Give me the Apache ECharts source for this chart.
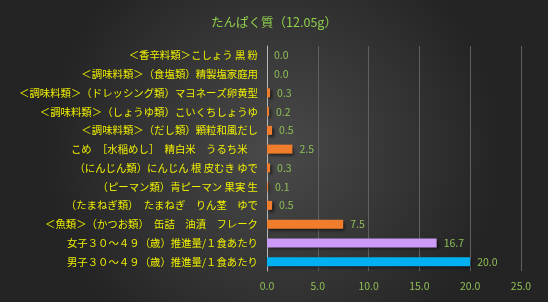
<!DOCTYPE html>
<html><head><meta charset="utf-8">
<script src="https://cdn.jsdelivr.net/npm/echarts@6/dist/echarts.min.js"></script>
<style>html,body{margin:0;padding:0;background:#333}#c{width:548px;height:302px}</style>
</head><body><div id="c"></div>
<script>
const titleText = 'たんぱく質（12.05g）';
const categories = [
  '＜香辛料類＞こしょう 黒 粉',
  '＜調味料類＞（食塩類）精製塩家庭用',
  '＜調味料類＞（ドレッシング類）マヨネーズ卵黄型',
  '＜調味料類＞（しょうゆ類）こいくちしょうゆ',
  '＜調味料類＞（だし類）顆粒和風だし',
  'こめ　［水稲めし］　精白米　うるち米　',
  '（にんじん類）にんじん 根 皮むき ゆで',
  '（ピーマン類）青ピーマン 果実 生',
  '（たまねぎ類）　たまねぎ　りん茎　ゆで',
  '＜魚類＞（かつお類）　缶詰　油漬　フレーク',
  '女子３０～４９（歳）推進量/１食あたり',
  '男子３０～４９（歳）推進量/１食あたり'
];
const values = [0.0, 0.0, 0.3, 0.2, 0.5, 2.5, 0.3, 0.1, 0.5, 7.5, 16.7, 20.0];
const barColors = ['#f07d2c','#f07d2c','#f07d2c','#f07d2c','#f07d2c','#f07d2c','#f07d2c','#f07d2c','#f07d2c','#f07d2c','#cc9af7','#00b0f0'];
const xTicks = {min: 0, max: 25, interval: 5};

const chart = echarts.init(document.getElementById('c'));
chart.setOption({
  backgroundColor: {type:'radial', x:0.5, y:0.5, r:0.75, colorStops:[{offset:0,color:'#4a4a4a'},{offset:1,color:'#242424'}]},
  title: {text: titleText, left: 'center', top: 11,
    textStyle: {color:'#8fcf4c', fontSize: 12.5, fontWeight: 'normal', fontFamily: '"Noto Sans CJK JP"'}},
  grid: {left: 267, right: 27, top: 46, bottom: 31},
  xAxis: {type:'value', min: xTicks.min, max: xTicks.max, interval: xTicks.interval,
    axisLine:{show:false}, axisTick:{show:false},
    splitLine:{lineStyle:{color:'#606060', width:1}},
    axisLabel:{color:'#8fbf56', fontSize: 10.5, margin: 10, fontFamily:'"Noto Sans CJK JP"',
      formatter: v => v.toFixed(1)}},
  yAxis: {type:'category', data: categories, inverse: true,
    axisLine:{show:true, lineStyle:{color:'#b8b8b8', width:1}}, axisTick:{show:false},
    axisLabel:{color:'#eeee00', fontSize: 10.4, margin: 9, fontFamily:'"Noto Sans CJK JP"'}},
  series: [{
    type:'bar', barWidth: 9,
    data: values.map((v,i)=>({value:v, itemStyle:{color:barColors[i]}})),
    itemStyle:{shadowColor:'rgba(0,0,0,0.6)', shadowBlur:3, shadowOffsetX:2, shadowOffsetY:2},
    label:{show:true, position:'right', distance:7, color:'#8fbf56', fontSize:10.5,
      fontFamily:'"Noto Sans CJK JP"', formatter: p => p.value.toFixed(1)}
  }]
});
</script></body></html>
